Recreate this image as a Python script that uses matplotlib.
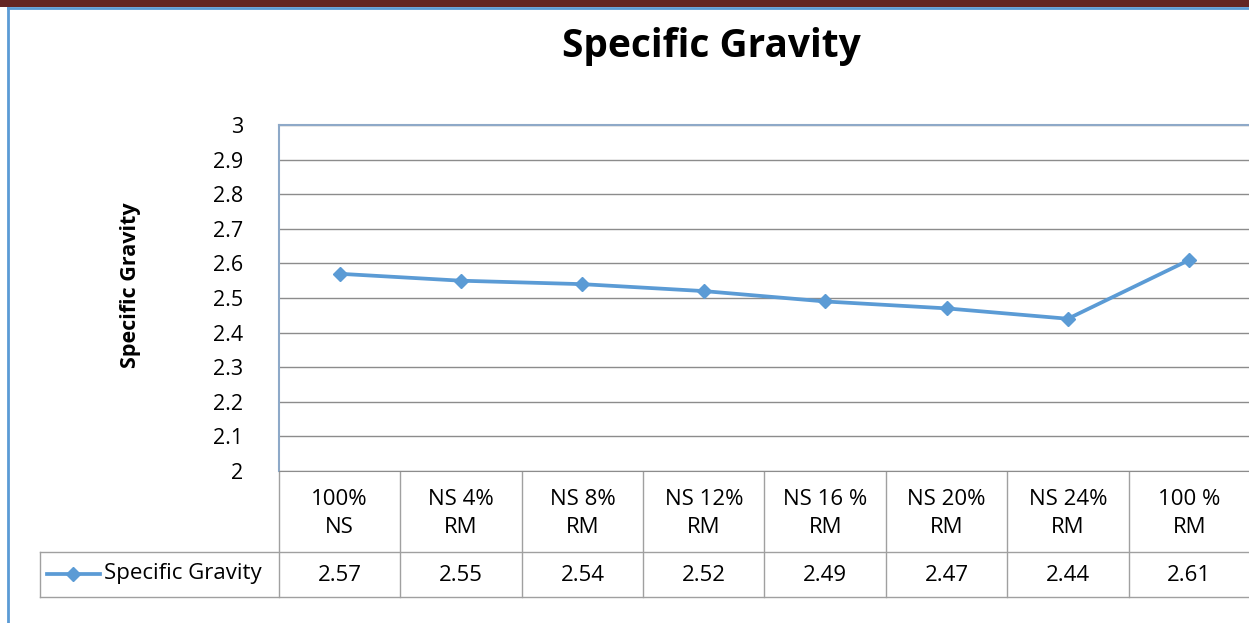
import matplotlib.pyplot as plt
from matplotlib.lines import Line2D
import numpy as np

plt.rcParams['font.family'] = ['Open Sans', 'DejaVu Sans']

categorias = ["100%\nNS", "NS 4%\nRM", "NS 8%\nRM", "NS 12%\nRM", "NS 16 %\nRM",
              "NS 20%\nRM", "NS 24%\nRM", "100 %\nRM"]
gravedad = [2.57, 2.55, 2.54, 2.52, 2.49, 2.47, 2.44, 2.61]
serie = "Specific Gravity"
y_ticks = [2, 2.1, 2.2, 2.3, 2.4, 2.5, 2.6, 2.7, 2.8, 2.9, 3]

W, H = 1249, 623
azul = "#5B9BD5"
gris = "#A0A0A0"

fig = plt.figure(figsize=(W / 100, H / 100), dpi=100)

# capa en pixeles para bordes y tabla
capa = fig.add_axes([0, 0, 1, 1])
capa.set_xlim(0, W)
capa.set_ylim(H, 0)
capa.axis("off")

# area del grafico
x0, x1, y0, y1 = 279, 1250, 125, 471
ax = fig.add_axes([x0 / W, 1 - y1 / H, (x1 - x0) / W, (y1 - y0) / H])
x = np.arange(len(categorias))
ax.plot(x, gravedad, color=azul, lw=2.7, marker="D", ms=7.5, zorder=3)
ax.set_xlim(-0.5, len(categorias) - 0.5)
ax.set_ylim(2, 3)
ax.set_yticks(y_ticks)
ax.set_yticklabels([f"{v:g}" for v in y_ticks], fontsize=15.5)
ax.set_xticks([])
ax.tick_params(axis="y", length=0, pad=26)
ax.grid(axis="y", color="#8C8C8C", lw=1)
ax.spines["right"].set_visible(False)
for lado in ["left", "top"]:
    ax.spines[lado].set_color("#8EA9C8")
    ax.spines[lado].set_linewidth(1.5)
ax.spines["bottom"].set_color("#8C8C8C")

capa.text(131, 285, serie, rotation=90, ha="center", va="center",
          fontsize=15.5, fontweight="bold")
capa.text(711, 46, serie, ha="center", va="center",
          fontsize=28, fontweight="bold")

# tabla de datos
ancho = (x1 - x0) / len(categorias)
fila1, fila2 = 552, 597
for i in range(len(categorias) + 1):
    xc = x0 + i * ancho
    capa.plot([xc, xc], [y1, fila2], color=gris, lw=1)
capa.plot([40, x1], [fila1, fila1], color=gris, lw=1)
capa.plot([40, x1], [fila2, fila2], color=gris, lw=1)
capa.plot([40, 40], [fila1, fila2], color=gris, lw=1)
for i, (cat, val) in enumerate(zip(categorias, gravedad)):
    xc = x0 + (i + 0.5) * ancho
    capa.text(xc, (y1 + fila1) / 2 + 2, cat, ha="center", va="center",
              fontsize=16, linespacing=1.45)
    capa.text(xc, (fila1 + fila2) / 2 + 1, f"{val:.2f}", ha="center",
              va="center", fontsize=16)
capa.plot([47, 100], [574, 574], color=azul, lw=2.7, zorder=3)
capa.plot([73], [574], color=azul, marker="D", ms=7.5)
capa.text(104, 574, serie, ha="left", va="center", fontsize=16)

# bordes de la pagina
capa.add_patch(plt.Rectangle((0, 0), W, 7, color="#632523", lw=0))
capa.add_line(Line2D([8, W], [8, 8], color=azul, lw=2))
capa.add_line(Line2D([8, 8], [8, H], color=azul, lw=2))

fig.savefig("out.png", dpi=100)
